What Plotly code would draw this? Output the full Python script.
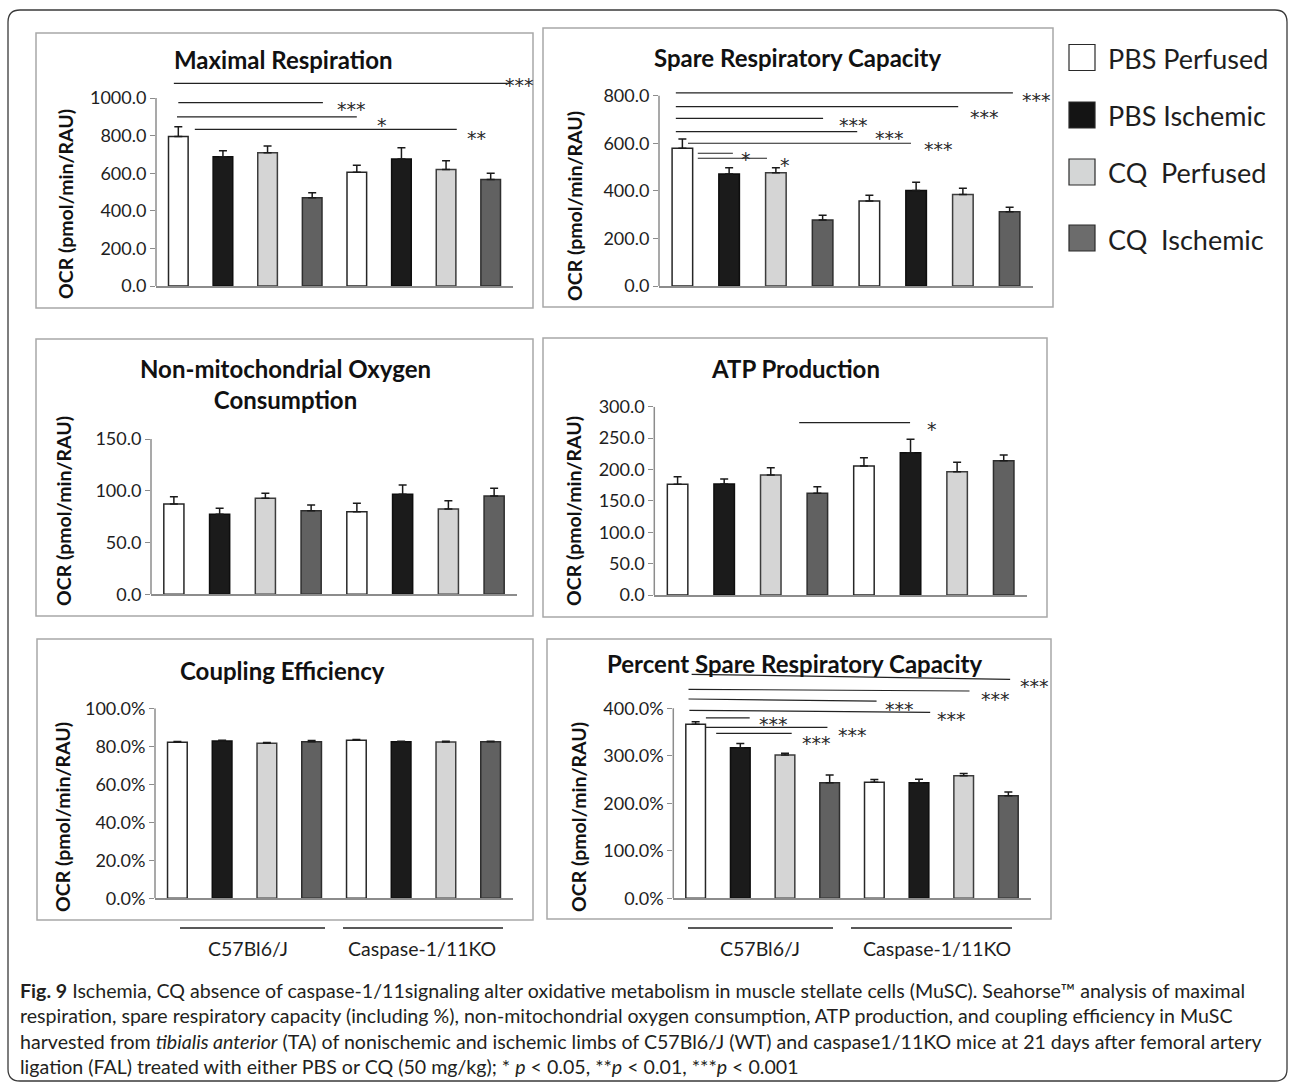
import plotly.graph_objects as go

W, H = 1293, 1086

# ---------------- data ----------------
groups = ["PBS Perfused", "PBS Ischemic", "CQ Perfused", "CQ Ischemic"]
strains = ["C57Bl6/J", "Caspase-1/11KO"]
categories = [f"{s} {g}" for s in strains for g in groups]

max_resp = [795, 688, 709, 470, 605, 675, 620, 567]
max_resp_err = [52, 32, 36, 26, 38, 60, 46, 33]
spare = [579, 471, 476, 277, 357, 401, 385, 312]
spare_err = [39, 26, 21, 20, 25, 35, 26, 19]
nonmito = [87.2, 77.3, 92.7, 80.8, 79.8, 96.6, 82.4, 95.0]
nonmito_err = [7.1, 5.7, 4.9, 5.5, 8.1, 9.0, 8.0, 7.4]
atp = [176.3, 176.8, 191.0, 162.0, 205.5, 226.7, 196.4, 214.0]
atp_err = [12.2, 8.0, 11.8, 10.5, 13.2, 21.3, 15.0, 9.0]
coupling = [0.821, 0.828, 0.816, 0.824, 0.832, 0.824, 0.822, 0.824]
coupling_err = [0.004, 0.004, 0.004, 0.006, 0.004, 0.003, 0.004, 0.003]
pct_spare = [3.663, 3.171, 3.017, 2.434, 2.442, 2.434, 2.580, 2.160]
pct_spare_err = [0.055, 0.09, 0.035, 0.16, 0.06, 0.07, 0.05, 0.08]

# significance brackets: (x_start, x_end, y_start, y_end, label, label_x, label_y)
sig_max = [(-0.10, 7.43, 1078, 1078, "***", 7.28, 1101),
           (0.00, 3.24, 975, 975, "***", 3.51, 973),
           (-0.03, 4.00, 900, 900, "*", 4.41, 888),
           (0.37, 6.24, 833, 833, "**", 6.42, 821)]
sig_spare = [(-0.14, 7.07, 812, 812, "***", 7.22, 807),
             (-0.14, 5.90, 754, 754, "***", 6.10, 737),
             (-0.14, 3.01, 705, 705, "***", 3.30, 702),
             (-0.14, 3.74, 649, 649, "***", 4.07, 649),
             (0.12, 4.89, 600, 600, "***", 5.12, 600),
             (0.33, 1.08, 558, 558, "*", 1.21, 558),
             (0.33, 1.81, 537, 537, "*", 2.04, 533)]
sig_atp = [(2.61, 4.99, 274.5, 274.5, "*", 5.31, 273.5)]
sig_pct = [(-0.09, 7.04, 4.716, 4.61, "***", 7.22, 4.596),
           (-0.16, 6.13, 4.40, 4.364, "***", 6.35, 4.33),
           (-0.16, 4.05, 4.196, 4.15, "***", 4.20, 4.105),
           (-0.14, 5.25, 3.958, 3.916, "***", 5.36, 3.907),
           (0.23, 1.21, 3.80, 3.80, "***", 1.37, 3.79),
           (0.23, 2.95, 3.60, 3.60, "***", 3.14, 3.564),
           (0.46, 2.15, 3.474, 3.474, "***", 2.34, 3.40)]

titles = ["Maximal Respiration", "Spare Respiratory Capacity",
          "Non-mitochondrial Oxygen<br>Consumption", "ATP Production",
          "Coupling Efficiency", "Percent Spare Respiratory Capacity"]
y_title = "OCR (pmol/min/RAU)"
caption_lines = [
    "<b>Fig. 9</b> Ischemia, CQ absence of caspase-1/11signaling alter oxidative metabolism in muscle stellate cells (MuSC). Seahorse\u2122 analysis of maximal",
    "respiration, spare respiratory capacity (including %), non-mitochondrial oxygen consumption, ATP production, and coupling efficiency in MuSC",
    "harvested from <i>tibialis anterior</i> (TA) of nonischemic and ischemic limbs of C57Bl6/J (WT) and caspase1/11KO mice at 21 days after femoral artery",
    "ligation (FAL) treated with either PBS or CQ (50 mg/kg); * <i>p</i> &lt; 0.05, **<i>p</i> &lt; 0.01, ***<i>p</i> &lt; 0.001",
]

# ---------------- styles ----------------
bar_fill = ["#ffffff", "#1b1b1b", "#d5d5d5", "#616161"]
bar_edge = ["#262626", "#0e0e0e", "#3c3c3c", "#2e2e2e"]
legend_fill = ["#ffffff", "#141414", "#d4d6d6", "#6c6c6c"]
FONT = "Lato"
AXIS_COL = "#8c8c8c"
TXT = "#1e1e1e"


def fx(x):
    return x / W


def fy(y):
    return 1 - y / H


panels = [
    dict(vals=max_resp, err=max_resp_err, sig=sig_max, rng=[0, 1115], top=1000, dt=200, fmt=".1f",
         xd=(156, 513), yd=(286, 76.4), box=(36, 33, 533, 308), tpos=(283, 60), ypos=(66, 204)),
    dict(vals=spare, err=spare_err, sig=sig_spare, rng=[0, 850], top=800, dt=200, fmt=".1f",
         xd=(659, 1033), yd=(286, 83.8), box=(543, 28, 1053, 307), tpos=(797, 58), ypos=(575, 206)),
    dict(vals=nonmito, err=nonmito_err, sig=[], rng=[0, 150], top=150, dt=50, fmt=".1f",
         xd=(151, 517), yd=(594.3, 439), box=(36, 339, 533, 616), tpos=(285, 384), ypos=(63, 511)),
    dict(vals=atp, err=atp_err, sig=sig_atp, rng=[0, 300], top=300, dt=50, fmt=".1f",
         xd=(654.3, 1027), yd=(595, 406.7), box=(543, 338, 1047, 617), tpos=(795, 368), ypos=(573, 511)),
    dict(vals=coupling, err=coupling_err, sig=[], rng=[0, 1.0], top=1.0, dt=0.2, fmt=".1%",
         xd=(155, 513), yd=(898.3, 708.3), box=(37, 639, 533, 920), tpos=(282, 670), ypos=(62, 817)),
    dict(vals=pct_spare, err=pct_spare_err, sig=sig_pct, rng=[0, 4.8], top=4.0, dt=1.0, fmt=".1%",
         xd=(673.3, 1030.7), yd=(898.3, 670.3), box=(547, 639, 1051, 919), tpos=(794, 663), ypos=(578, 817)),
]

fig = go.Figure()
shapes = []
annotations = []
layout_axes = {}

for i, p in enumerate(panels):
    n = "" if i == 0 else str(i + 1)
    xa, ya = "x" + n, "y" + n
    fig.add_trace(go.Bar(
        x=categories, y=p["vals"], xaxis=xa, yaxis=ya, showlegend=False,
        marker=dict(color=[bar_fill[k % 4] for k in range(8)],
                    line=dict(color=[bar_edge[k % 4] for k in range(8)], width=1.5)),
        error_y=dict(type="data", array=p["err"], arrayminus=[0] * 8, symmetric=False,
                     color="#1a1a1a", thickness=1.5, width=4),
    ))
    nt = int(round(p["top"] / p["dt"]))
    tickvals = [round(k * p["dt"], 6) for k in range(nt + 1)]
    layout_axes["xaxis" + n] = dict(
        domain=[fx(p["xd"][0]), fx(p["xd"][1])], anchor=ya, type="category",
        categoryorder="array", categoryarray=categories, range=[-0.5, 7.5],
        showticklabels=False, ticks="", showgrid=False, zeroline=False, automargin=False,
        showline=True, linecolor=AXIS_COL, linewidth=1.5, fixedrange=True)
    layout_axes["yaxis" + n] = dict(
        domain=[fy(p["yd"][0]), fy(p["yd"][1])], anchor=xa, range=p["rng"],
        tickvals=tickvals, tickformat=p["fmt"], ticks="outside", ticklen=5,
        tickcolor=AXIS_COL, tickwidth=1.2, showline=False, showgrid=False, zeroline=False,
        automargin=False, tickfont=dict(family=FONT, size=18, color=TXT), fixedrange=True)
    # y axis line up to top tick
    shapes.append(dict(type="line", xref=xa + " domain", yref=ya, x0=0, x1=0,
                       y0=0, y1=p["top"], line=dict(color=AXIS_COL, width=1.5)))
    # panel box
    bx0, by0, bx1, by1 = p["box"]
    shapes.append(dict(type="rect", xref="paper", yref="paper", x0=fx(bx0), x1=fx(bx1),
                       y0=fy(by1), y1=fy(by0), line=dict(color="#a8a8a8", width=1.5),
                       fillcolor="rgba(0,0,0,0)", layer="below"))
    # title
    annotations.append(dict(text="<b>" + titles[i] + "</b>", xref="paper", yref="paper",
                            x=fx(p["tpos"][0]), y=fy(p["tpos"][1]), xanchor="center",
                            yanchor="middle", showarrow=False,
                            font=dict(family=FONT, size=24, color="#111111")))
    # y title
    annotations.append(dict(text="<b>" + y_title + "</b>", xref="paper", yref="paper",
                            x=fx(p["ypos"][0]), y=fy(p["ypos"][1]), xanchor="center",
                            yanchor="middle", textangle=-90, showarrow=False,
                            font=dict(family=FONT, size=19.5, color="#111111")))
    # significance
    for (x0, x1, y0, y1, lab, lx, ly) in p["sig"]:
        shapes.append(dict(type="line", xref=xa, yref=ya, x0=x0, x1=x1, y0=y0, y1=y1,
                           line=dict(color="#222222", width=1.2)))
        annotations.append(dict(text=lab, xref=xa, yref=ya, x=lx, y=ly, xanchor="left",
                                yanchor="middle", yshift=-6, showarrow=False,
                                font=dict(family="DejaVu Sans", size=19, color="#2a2a2a")))

# legend (manual, large swatches)
leg_y = [57.5, 115, 172, 238]
for k, g in enumerate(groups):
    shapes.append(dict(type="rect", xref="paper", yref="paper", x0=fx(1069), x1=fx(1095),
                       y0=fy(leg_y[k] + 13), y1=fy(leg_y[k] - 13),
                       fillcolor=legend_fill[k], line=dict(color="#2a2a2a", width=1.2)))
    annotations.append(dict(text=g.replace("CQ ", "CQ&nbsp;&nbsp;"), xref="paper", yref="paper",
                            x=fx(1106), y=fy(leg_y[k] + 1), xanchor="left", yanchor="middle",
                            showarrow=False, font=dict(family=FONT, size=27, color=TXT)))

# strain group labels under bottom panels
for (l0, l1, l2, l3, c0, c1) in [(180, 325, 343, 503, 248, 422), (688, 833, 851, 1012, 760, 937)]:
    shapes.append(dict(type="line", xref="paper", yref="paper", x0=fx(l0), x1=fx(l1),
                       y0=fy(928), y1=fy(928), line=dict(color="#222222", width=1.5)))
    shapes.append(dict(type="line", xref="paper", yref="paper", x0=fx(l2), x1=fx(l3),
                       y0=fy(928), y1=fy(928), line=dict(color="#222222", width=1.5)))
    for s, c in zip(strains, (c0, c1)):
        annotations.append(dict(text=s, xref="paper", yref="paper", x=fx(c), y=fy(948),
                                xanchor="center", yanchor="middle", showarrow=False,
                                font=dict(family=FONT, size=19.5, color=TXT)))

# caption
cap_y = [990, 1015, 1041, 1066]
for t, yy in zip(caption_lines, cap_y):
    annotations.append(dict(text=t, xref="paper", yref="paper", x=fx(18), y=fy(yy),
                            xanchor="left", yanchor="middle", showarrow=False,
                            font=dict(family=FONT, size=19.6, color="#231f20")))

# outer rounded border
x0, y0, x1, y1, r = 8, 10, 1287, 1081, 12
path = (f"M {fx(x0 + r)},{fy(y0)} L {fx(x1 - r)},{fy(y0)} Q {fx(x1)},{fy(y0)} {fx(x1)},{fy(y0 + r)} "
        f"L {fx(x1)},{fy(y1 - r)} Q {fx(x1)},{fy(y1)} {fx(x1 - r)},{fy(y1)} "
        f"L {fx(x0 + r)},{fy(y1)} Q {fx(x0)},{fy(y1)} {fx(x0)},{fy(y1 - r)} "
        f"L {fx(x0)},{fy(y0 + r)} Q {fx(x0)},{fy(y0)} {fx(x0 + r)},{fy(y0)} Z")
shapes.append(dict(type="path", xref="paper", yref="paper", path=path,
                   line=dict(color="#3a3a3a", width=1.3), layer="below"))

fig.update_layout(
    template="none",
    width=W, height=H, margin=dict(l=0, r=0, t=0, b=0, pad=0, autoexpand=False),
    paper_bgcolor="white", plot_bgcolor="rgba(0,0,0,0)", showlegend=False,
    bargap=0.56, shapes=shapes, annotations=annotations,
    font=dict(family=FONT, color=TXT), **layout_axes)

fig.write_html("out.html", config={"displayModeBar": False},
               post_script="document.body.style.margin='0px';")
